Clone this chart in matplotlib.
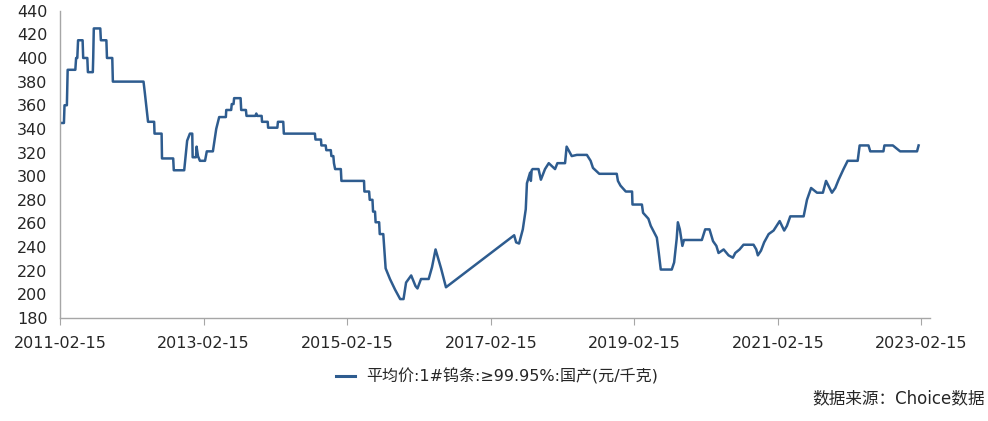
import pandas as pd
import matplotlib
matplotlib.use('Agg')
import matplotlib.pyplot as plt
import matplotlib.dates as mdates

plt.rcParams['font.family'] = ['DejaVu Sans', 'Noto Sans CJK SC']

# 平均价:1#钨条:≥99.95%:国产 (元/千克)
dates = [
    '2011-02-17', '2011-03-07', '2011-03-10', '2011-03-22', '2011-03-26', '2011-05-04', '2011-05-08',
    '2011-05-14', '2011-05-18', '2011-06-10', '2011-06-13', '2011-07-04', '2011-07-07', '2011-08-01',
    '2011-08-03', '2011-08-06', '2011-09-08', '2011-09-11', '2011-10-09', '2011-10-12', '2011-11-08',
    '2011-11-11', '2012-04-15', '2012-04-22', '2012-05-08', '2012-06-08', '2012-06-10', '2012-07-16',
    '2012-07-18', '2012-09-13', '2012-09-16', '2012-11-08', '2012-11-23', '2012-12-07', '2012-12-19',
    '2012-12-21', '2013-01-07', '2013-01-10', '2013-01-17', '2013-01-27', '2013-02-22', '2013-03-03',
    '2013-04-03', '2013-04-20', '2013-05-05', '2013-06-08', '2013-06-10', '2013-07-05', '2013-07-08',
    '2013-07-17', '2013-07-20', '2013-08-22', '2013-08-25', '2013-09-18', '2013-09-21', '2013-11-05',
    '2013-11-10', '2013-11-15', '2013-12-07', '2013-12-09', '2014-01-07', '2014-01-09', '2014-02-25',
    '2014-02-28', '2014-03-27', '2014-03-30', '2014-09-04', '2014-09-07', '2014-10-05', '2014-10-07',
    '2014-10-29', '2014-11-01', '2014-11-24', '2014-11-27', '2014-12-07', '2014-12-10', '2014-12-16',
    '2015-01-14', '2015-01-17', '2015-05-12', '2015-05-14', '2015-06-07', '2015-06-10', '2015-06-24',
    '2015-06-27', '2015-07-07', '2015-07-10', '2015-07-28', '2015-07-31', '2015-08-18', '2015-08-30',
    '2015-09-21', '2015-10-17', '2015-11-12', '2015-11-29', '2015-12-12', '2016-01-07', '2016-01-29',
    '2016-02-08', '2016-02-26', '2016-04-05', '2016-04-22', '2016-05-10', '2016-06-07', '2016-07-02',
    '2017-06-14', '2017-06-24', '2017-07-09', '2017-07-28', '2017-08-12', '2017-08-18', '2017-09-03',
    '2017-09-07', '2017-09-11', '2017-09-16', '2017-10-16', '2017-10-28', '2017-11-18', '2017-12-07',
    '2018-01-08', '2018-01-20', '2018-02-28', '2018-03-08', '2018-04-03', '2018-04-29', '2018-06-19',
    '2018-07-08', '2018-07-20', '2018-08-21', '2018-11-18', '2018-11-24', '2018-12-07', '2019-01-03',
    '2019-02-04', '2019-02-06', '2019-03-26', '2019-04-01', '2019-04-28', '2019-05-10', '2019-06-10',
    '2019-06-20', '2019-06-30', '2019-08-25', '2019-09-06', '2019-09-19', '2019-09-25', '2019-10-05',
    '2019-10-18', '2019-10-26', '2020-01-25', '2020-02-11', '2020-03-04', '2020-03-22', '2020-04-08',
    '2020-04-19', '2020-05-15', '2020-06-09', '2020-07-01', '2020-07-13', '2020-08-04', '2020-08-24',
    '2020-10-14', '2020-10-28', '2020-11-05', '2020-11-21', '2020-12-07', '2020-12-30', '2021-01-24',
    '2021-02-24', '2021-03-19', '2021-04-02', '2021-04-19', '2021-06-26', '2021-07-13', '2021-08-03',
    '2021-09-02', '2021-10-02', '2021-10-18', '2021-11-17', '2021-12-04', '2021-12-21', '2022-01-15',
    '2022-02-05', '2022-03-28', '2022-04-07', '2022-05-22', '2022-05-31', '2022-08-06', '2022-08-11',
    '2022-09-23', '2022-10-30', '2023-01-24', '2023-02-01',
]
prices = [
    345, 345, 360, 360, 390, 390, 400,
    400, 415, 415, 400, 400, 388, 388,
    400, 425, 425, 415, 415, 400, 400,
    380, 380, 370, 346, 346, 336, 336,
    315, 315, 305, 305, 330, 336, 336,
    316, 316, 325, 317, 313, 313, 321,
    321, 340, 350, 350, 356, 356, 361,
    361, 366, 366, 356, 356, 351, 351,
    353, 351, 351, 346, 346, 341, 341,
    346, 346, 336, 336, 331, 331, 326,
    326, 322, 322, 317, 317, 311, 306,
    306, 296, 296, 287, 287, 280, 280,
    270, 270, 261, 261, 251, 251, 222,
    213, 204, 196, 196, 210, 216, 207,
    205, 213, 213, 223, 238, 222, 206,
    250, 244, 243, 255, 272, 294, 303,
    296, 305, 306, 306, 297, 306, 311,
    306, 311, 311, 325, 317, 318, 318,
    313, 307, 302, 302, 296, 292, 287,
    287, 276, 276, 269, 264, 258, 248,
    235, 221, 221, 227, 247, 261, 255,
    241, 246, 246, 255, 255, 245, 241,
    235, 238, 233, 231, 235, 238, 242,
    242, 238, 233, 237, 244, 251, 254,
    262, 254, 258, 266, 266, 280, 290,
    286, 286, 296, 286, 290, 297, 306,
    313, 313, 326, 326, 321, 321, 326,
    326, 321, 321, 326,
]
tick_labels = ['2011-02-15', '2013-02-15', '2015-02-15', '2017-02-15',
               '2019-02-15', '2021-02-15', '2023-02-15']
series_name = '平均价:1#钨条:≥99.95%:国产(元/千克)'
source_text = '数据来源：Choice数据'

df = pd.DataFrame({'date': pd.to_datetime(dates), 'price': prices})

fig = plt.figure(figsize=(9.88, 4.21), dpi=100)
ax = fig.add_axes([60 / 988, 1 - 318 / 421, 870 / 988, (318 - 10.7) / 421])

line_color = '#2e5c8f'
ax.plot(df['date'], df['price'], color=line_color, linewidth=1.8, label=series_name)

ax.set_ylim(180, 440)
ax.set_yticks(range(180, 441, 20))
ax.set_xlim(pd.Timestamp('2011-02-15'), pd.Timestamp('2023-03-31'))
ax.set_xticks(pd.to_datetime(tick_labels))
ax.xaxis.set_major_formatter(mdates.DateFormatter('%Y-%m-%d'))

for side in ['top', 'right']:
    ax.spines[side].set_visible(False)
for side in ['left', 'bottom']:
    ax.spines[side].set_color('#a6a6a6')
    ax.spines[side].set_linewidth(1.0)

ax.tick_params(axis='y', length=0, labelsize=11.5, colors='#262626', pad=9)
ax.tick_params(axis='x', length=5, direction='out', color='#a6a6a6',
               labelsize=11.5, labelcolor='#262626', pad=8)

leg = fig.legend(loc='center', bbox_to_anchor=(497 / 988, 1 - 376 / 421), frameon=False,
                 fontsize=11.5, handlelength=1.2, handletextpad=0.7, labelcolor='#262626')
for h in leg.get_lines():
    h.set_linewidth(2.2)
fig.text(985 / 988, 1 - 398 / 421, source_text, ha='right', va='center',
         fontsize=12, color='#262626')

fig.savefig('out.png', dpi=100)
